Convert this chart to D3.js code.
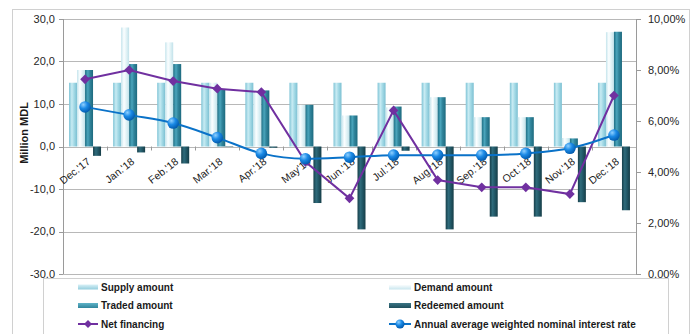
<!DOCTYPE html>
<html><head><meta charset="utf-8">
<script src="https://cdn.jsdelivr.net/npm/d3@7"></script>
<style>
html,body{margin:0;padding:0;background:#fff;}
svg{display:block;font-family:"Liberation Sans",Arial,sans-serif;}
</style></head>
<body><svg id="c" width="696" height="334"></svg>
<script>
const categories = ["Dec.'17","Jan.'18","Feb.'18","Mar.'18","Apr.'18","May'18","Jun.'18","Jul.'18","Aug.'18","Sep.'18","Oct.'18","Nov.'18","Dec.'18"];
const supply   = [15,15,15,15,15,15,15,15,15,15,15,15,15];
const demand   = [18,28,24.5,15,13.2,9.8,7.3,9.2,11.6,6.9,6.9,2.0,26.9];
const traded   = [18,19.4,19.4,13.5,13.2,9.8,7.3,9.4,11.6,6.9,6.9,1.9,27];
const redeemed = [-2.2,-1.4,-4.0,-0.1,-0.3,-13.3,-19.5,-1.0,-19.5,-16.5,-16.5,-13.1,-15.0];
const netFinancing = [15.8,18.0,15.4,13.6,12.8,-3.6,-12.2,8.5,-7.9,-9.6,-9.6,-11.2,12.0];
const interestRate = [6.55,6.24,5.92,5.35,4.73,4.52,4.58,4.66,4.66,4.66,4.73,4.93,5.45];
const leftTicks = [-30,-20,-10,0,10,20,30];
const rightTicks = [0,2,4,6,8,10];
const barSeries = ["Supply amount","Demand amount","Traded amount","Redeemed amount"];
const barValues = [supply,demand,traded,redeemed];

const svg = d3.select("#c");
const L=63,R=636,T=19,B=274;
const y = d3.scaleLinear().domain([-30,30]).range([B,T]);
const y2 = d3.scaleLinear().domain([0,10]).range([B,T]);
const x = d3.scaleBand().domain(categories).range([L,R]);
const xs = d3.scaleBand().domain(barSeries).range([x.bandwidth()/2-16, x.bandwidth()/2+16]);

// gradients
const defs = svg.append("defs");
const grads = [
  ["gS",["#7fc4d6","#c8ebf3","#a6dbe7","#7cc0d2"]],
  ["gD",["#c4e4ec","#fbfeff","#e6f5f8","#c2e2ea"]],
  ["gT",["#1f6f84","#4aa5bc","#31859c","#1d6a7e"]],
  ["gR",["#173f4a","#2f6b7b","#235a69","#163d47"]]
];
grads.forEach(([id,c])=>{
  const g=defs.append("linearGradient").attr("id",id).attr("x1","0").attr("x2","1").attr("y1","0").attr("y2","0");
  [0,0.35,0.6,1].forEach((o,i)=>g.append("stop").attr("offset",o).attr("stop-color",c[i]));
});
const rg=defs.append("radialGradient").attr("id","gDot").attr("cx","0.35").attr("cy","0.3").attr("r","0.75");
rg.append("stop").attr("offset",0).attr("stop-color","#8fd0ff");
rg.append("stop").attr("offset",0.45).attr("stop-color","#1b8ae6");
rg.append("stop").attr("offset",1).attr("stop-color","#0056a8");

// outer border
svg.append("rect").attr("x",12.5).attr("y",9.5).attr("width",677).attr("height",330)
  .attr("fill","none").attr("stroke","#d0d0d0");

// gridlines
svg.append("g").selectAll("line").data(leftTicks).join("line")
  .attr("x1",L).attr("x2",R).attr("y1",d=>Math.round(y(d))+0.5).attr("y2",d=>Math.round(y(d))+0.5)
  .attr("stroke","#b8b8b8").attr("stroke-width",1);

// left axis
const la = svg.append("g");
la.append("line").attr("x1",L+0.5).attr("x2",L+0.5).attr("y1",T).attr("y2",B).attr("stroke","#9a9a9a");
la.selectAll("line.t").data(leftTicks).join("line").attr("class","t")
  .attr("x1",L-4).attr("x2",L).attr("y1",d=>Math.round(y(d))+0.5).attr("y2",d=>Math.round(y(d))+0.5).attr("stroke","#9a9a9a");
la.selectAll("text").data(leftTicks).join("text")
  .attr("x",55).attr("y",d=>y(d)).attr("dy","0.35em").attr("text-anchor","end")
  .attr("font-size",11).attr("fill","#262626")
  .text(d=>d.toFixed(1).replace(".",","));
svg.append("text").attr("transform","translate(28,133) rotate(-90)").attr("text-anchor","middle")
  .attr("font-size",11).attr("font-weight","bold").attr("fill","#1a1a1a").text("Million MDL");

// right axis
const ra = svg.append("g");
ra.append("line").attr("x1",R+0.5).attr("x2",R+0.5).attr("y1",T).attr("y2",B).attr("stroke","#9a9a9a");
ra.selectAll("line.t").data(rightTicks).join("line").attr("class","t")
  .attr("x1",R).attr("x2",R+5).attr("y1",d=>Math.round(y2(d))+0.5).attr("y2",d=>Math.round(y2(d))+0.5).attr("stroke","#9a9a9a");
ra.selectAll("text").data(rightTicks).join("text")
  .attr("x",648).attr("y",d=>y2(d)).attr("dy","0.35em").attr("text-anchor","start")
  .attr("font-size",11).attr("fill","#262626")
  .text(d=>d.toFixed(2).replace(".",",")+"%");

// category ticks on zero line
svg.append("g").selectAll("line").data(categories.slice(1)).join("line")
  .attr("x1",d=>Math.round(x(d))+0.5).attr("x2",d=>Math.round(x(d))+0.5)
  .attr("y1",y(0)).attr("y2",y(0)+4).attr("stroke","#9a9a9a");

// bars
const gid=["gS","gD","gT","gR"];
barSeries.forEach((s,si)=>{
  svg.append("g").selectAll("rect").data(categories).join("rect")
    .attr("x",(c)=>x(c)+xs(s))
    .attr("width",xs.bandwidth())
    .attr("y",(c,i)=>y(Math.max(0,barValues[si][i])))
    .attr("height",(c,i)=>Math.abs(y(barValues[si][i])-y(0)))
    .attr("fill","url(#"+gid[si]+")");
});

// x labels
svg.append("g").selectAll("text").data(categories).join("text")
  .attr("transform",c=>`translate(${x(c)+x.bandwidth()/2+6},163) rotate(-38)`)
  .attr("text-anchor","end").attr("font-size",10.5).attr("fill","#1a1a1a").text(d=>d);

const cx = c=>x(c)+x.bandwidth()/2;
// net financing line
svg.append("path").datum(categories)
  .attr("d",d3.line().x(cx).y((c,i)=>y(netFinancing[i])))
  .attr("fill","none").attr("stroke","#7030a0").attr("stroke-width",2);
svg.append("g").selectAll("path").data(categories).join("path")
  .attr("d",d3.symbol(d3.symbolDiamond2,60))
  .attr("transform",(c,i)=>`translate(${cx(c)},${y(netFinancing[i])})`)
  .attr("fill","#7030a0");

// interest line
svg.append("path").datum(categories)
  .attr("d",d3.line().x(cx).y((c,i)=>y2(interestRate[i])).curve(d3.curveMonotoneX))
  .attr("fill","none").attr("stroke","#0a72c8").attr("stroke-width",2);
svg.append("g").selectAll("circle").data(categories).join("circle")
  .attr("cx",cx).attr("cy",(c,i)=>y2(interestRate[i])).attr("r",5.8)
  .attr("fill","url(#gDot)");

// legend
svg.append("rect").attr("x",43.5).attr("y",278.5).attr("width",625).attr("height",60)
  .attr("fill","#fff").attr("stroke","#d0d0d0");
const legendItems = [
  {name:"Supply amount",type:"bar",g:"gS",col:0,row:0},
  {name:"Demand amount",type:"bar",g:"gD",col:1,row:0},
  {name:"Traded amount",type:"bar",g:"gT",col:0,row:1},
  {name:"Redeemed amount",type:"bar",g:"gR",col:1,row:1},
  {name:"Net financing",type:"diamond",c:"#7030a0",col:0,row:2},
  {name:"Annual average weighted nominal interest rate",type:"dot",c:"#0a72c8",col:1,row:2}
];
const colX=[[78,98,101],[389,411,414]];
const rowY=[287,305.5,324];
legendItems.forEach(it=>{
  const [x0,x1,tx]=colX[it.col]; const yy=rowY[it.row];
  const g=svg.append("g");
  if(it.type==="bar"){
    const lg=defs.append("linearGradient").attr("id","lg"+it.g).attr("x1",0).attr("x2",0).attr("y1",0).attr("y2",1);
    const base={gS:["#d9f1f7","#93cddd"],gD:["#ffffff","#c9e6ee"],gT:["#5fb3c8","#31859c"],gR:["#3b7585","#1f4f5c"]}[it.g];
    lg.append("stop").attr("offset",0).attr("stop-color",base[0]);
    lg.append("stop").attr("offset",1).attr("stop-color",base[1]);
    g.append("rect").attr("x",x0).attr("y",yy-2.5).attr("width",x1-x0).attr("height",5).attr("fill","url(#lg"+it.g+")");
  } else {
    g.append("line").attr("x1",x0).attr("x2",x1).attr("y1",yy).attr("y2",yy).attr("stroke",it.c).attr("stroke-width",2);
    if(it.type==="diamond"){
      g.append("path").attr("d",d3.symbol(d3.symbolDiamond2,40)).attr("transform",`translate(${(x0+x1)/2},${yy})`).attr("fill",it.c);
    } else {
      g.append("circle").attr("cx",(x0+x1)/2).attr("cy",yy).attr("r",4.5).attr("fill","url(#gDot)");
    }
  }
  g.append("text").attr("x",tx).attr("y",yy).attr("dy","0.35em").attr("font-size",10)
    .attr("font-weight","bold").attr("fill","#1a1a1a").text(it.name);
});
</script></body></html>
